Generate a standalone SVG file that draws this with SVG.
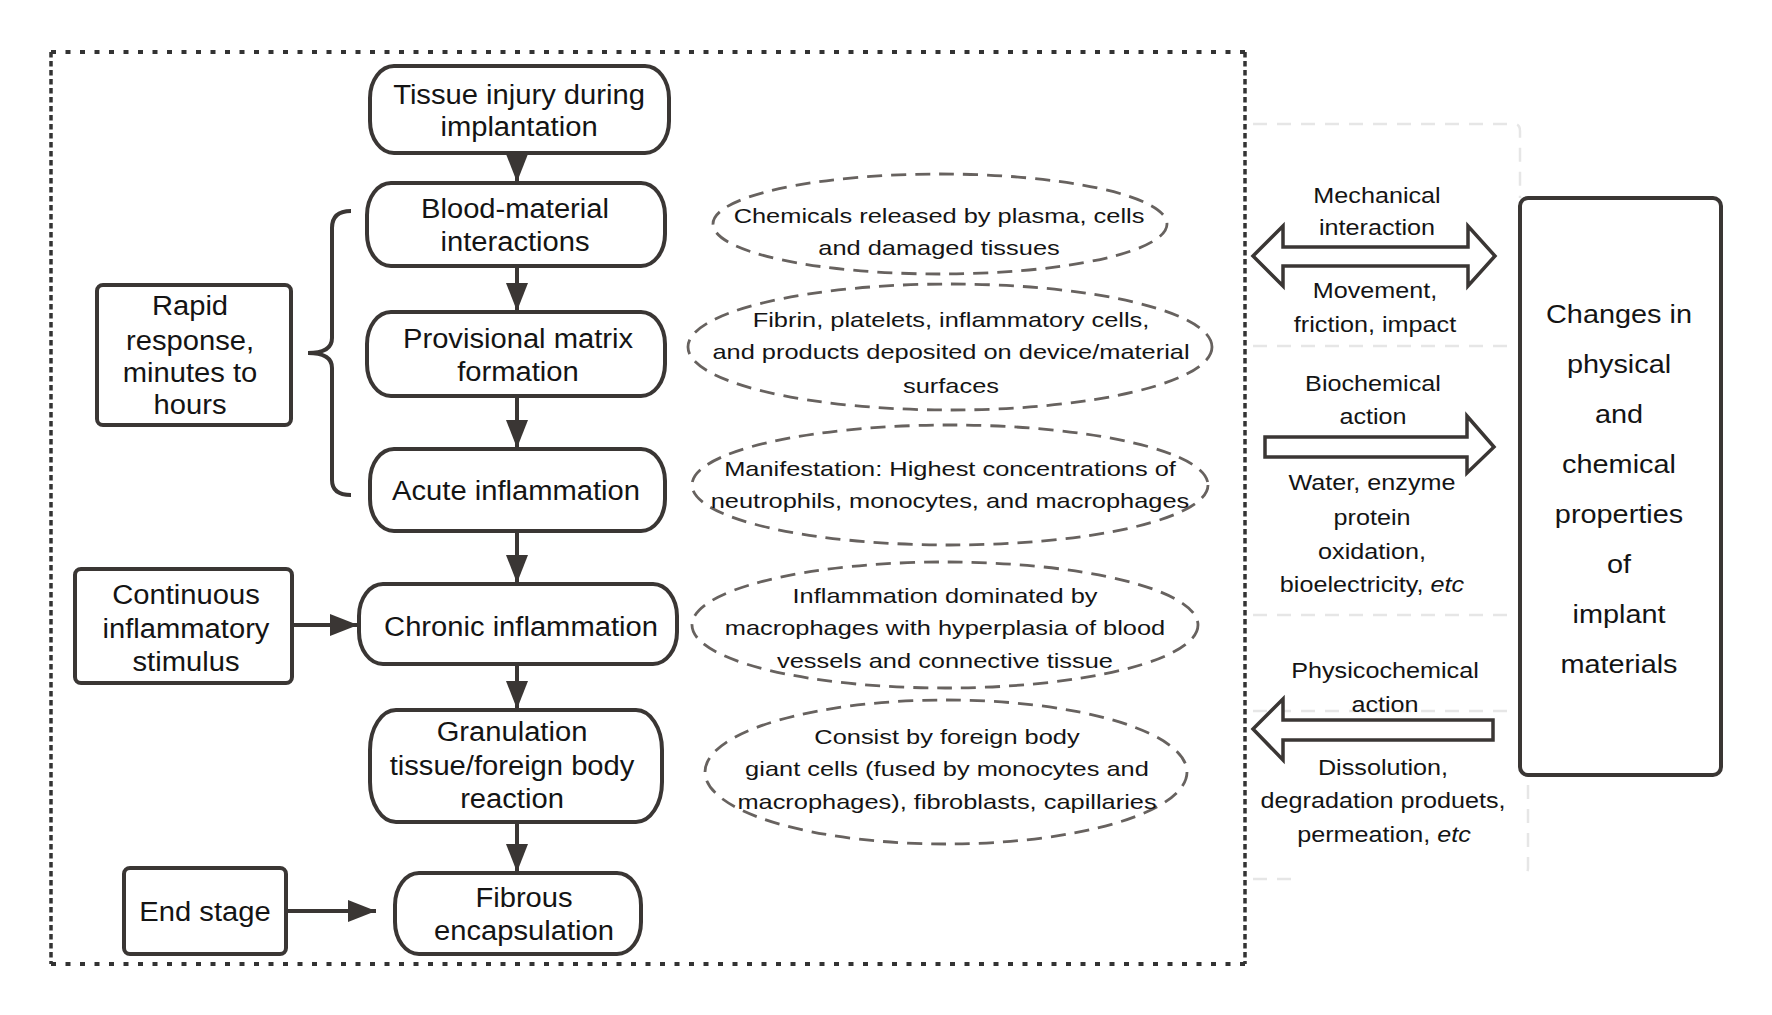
<svg xmlns="http://www.w3.org/2000/svg" width="1772" height="1015" viewBox="0 0 1772 1015">
<style>
text{font-family:"Liberation Sans",Arial,"DejaVu Sans",sans-serif;fill:#141414;text-anchor:middle}
.n{font-size:27px}
.e{font-size:21px}
.r{font-size:22.5px}
.b{font-size:26px}
.box{fill:#fff;stroke:#3a3634;stroke-width:4}
.ell{fill:none;stroke:#67625f;stroke-width:2.8;stroke-dasharray:15 9}
.flow{stroke:#3a3634;stroke-width:4;fill:none}
.blk{fill:#fff;stroke:#3a3634;stroke-width:3.5;stroke-linejoin:miter}
.ghost{fill:none;stroke:#e6e6e6;stroke-width:2.5;stroke-dasharray:14 10}
.bh{fill:none;stroke:#333;stroke-width:4;stroke-dasharray:5 9.5}
.bv{fill:none;stroke:#333;stroke-width:3.5;stroke-dasharray:5.5 3.5}
</style>
<defs>
<marker id="ah" markerUnits="userSpaceOnUse" markerWidth="30" markerHeight="24" refX="28" refY="11" orient="auto">
<path d="M0,0 L28,11 L0,22 z" fill="#3a3634"/>
</marker>
</defs>
<rect width="1772" height="1015" fill="#fff"/>

<g id="frame">
<line class="bh" x1="51" y1="52" x2="1245" y2="52"/>
<line class="bh" x1="51" y1="964" x2="1245" y2="964"/>
<line class="bv" x1="51" y1="52" x2="51" y2="964"/>
<line class="bv" x1="1245" y1="52" x2="1245" y2="964"/>
</g>

<g id="ghost-lines">
<path class="ghost" d="M1253,124 H1514 Q1520,124 1520,131 V198"/>
<line class="ghost" x1="1253" y1="346" x2="1515" y2="346"/>
<line class="ghost" x1="1253" y1="615" x2="1515" y2="615"/>
<line class="ghost" x1="1253" y1="711" x2="1515" y2="711"/>
<path class="ghost" d="M1528,785 V868 Q1528,874 1522,876"/>
<line class="ghost" x1="1253" y1="879" x2="1300" y2="879"/>
</g>

<g id="connectors">
<line class="flow" x1="517" y1="153" x2="517" y2="182" marker-end="url(#ah)"/>
<line class="flow" x1="517" y1="266" x2="517" y2="311" marker-end="url(#ah)"/>
<line class="flow" x1="517" y1="396" x2="517" y2="448" marker-end="url(#ah)"/>
<line class="flow" x1="517" y1="531" x2="517" y2="583" marker-end="url(#ah)"/>
<line class="flow" x1="517" y1="664" x2="517" y2="709" marker-end="url(#ah)"/>
<line class="flow" x1="517" y1="822" x2="517" y2="872" marker-end="url(#ah)"/>
<line class="flow" x1="292" y1="625" x2="358" y2="625" marker-end="url(#ah)"/>
<line class="flow" x1="286" y1="911" x2="376" y2="911" marker-end="url(#ah)"/>
<path id="brace" class="flow" d="M351,211 Q332,211 332,228 L332,338 Q332,353 308,353 Q332,353 332,368 L332,480 Q332,495 351,495"/>
<polygon id="mech-arrow" class="blk" points="1253,256 1283,226 1283,247 1468,247 1468,226 1495,256 1468,286 1468,266 1283,266 1283,286"/>
<polygon id="bio-arrow" class="blk" points="1265,437 1467,437 1467,416 1494,447 1467,473 1467,457 1265,457"/>
<polygon id="phys-arrow" class="blk" points="1253,729 1283,699 1283,720 1493,720 1493,740 1283,740 1283,760"/>
</g>

<g id="tissue">
<rect class="box" x="370" y="66" width="299" height="87" rx="24" ry="32"/>
<text class="n" transform="translate(519 0) scale(1.08 1)" y="104">Tissue injury during</text>
<text class="n" transform="translate(519 0) scale(1.08 1)" y="136">implantation</text>
</g>
<g id="blood">
<rect class="box" x="367" y="183" width="298" height="83" rx="24" ry="32"/>
<text class="n" transform="translate(515 0) scale(1.08 1)" y="218">Blood-material</text>
<text class="n" transform="translate(515 0) scale(1.08 1)" y="251">interactions</text>
</g>
<g id="provisional">
<rect class="box" x="367" y="312" width="298" height="84" rx="24" ry="32"/>
<text class="n" transform="translate(518 0) scale(1.08 1)" y="348">Provisional matrix</text>
<text class="n" transform="translate(518 0) scale(1.08 1)" y="381">formation</text>
</g>
<g id="acute">
<rect class="box" x="370" y="449" width="295" height="82" rx="24" ry="32"/>
<text class="n" transform="translate(516 0) scale(1.08 1)" y="500">Acute inflammation</text>
</g>
<g id="chronic">
<rect class="box" x="359" y="584" width="318" height="80" rx="24" ry="32"/>
<text class="n" transform="translate(521 0) scale(1.08 1)" y="636">Chronic inflammation</text>
</g>
<g id="granulation">
<rect class="box" x="370" y="710" width="292" height="112" rx="26" ry="40"/>
<text class="n" transform="translate(512 0) scale(1.08 1)" y="741">Granulation</text>
<text class="n" transform="translate(512 0) scale(1.08 1)" y="775">tissue/foreign body</text>
<text class="n" transform="translate(512 0) scale(1.08 1)" y="808">reaction</text>
</g>
<g id="fibrous">
<rect class="box" x="395" y="873" width="246" height="81" rx="24" ry="32"/>
<text class="n" transform="translate(524 0) scale(1.08 1)" y="907">Fibrous</text>
<text class="n" transform="translate(524 0) scale(1.08 1)" y="940">encapsulation</text>
</g>

<g id="rapid">
<rect class="box" x="97" y="285" width="194" height="140" rx="6"/>
<text class="n" transform="translate(190 0) scale(1.08 1)" y="315">Rapid</text>
<text class="n" transform="translate(190 0) scale(1.08 1)" y="350">response,</text>
<text class="n" transform="translate(190 0) scale(1.08 1)" y="382">minutes to</text>
<text class="n" transform="translate(190 0) scale(1.08 1)" y="414">hours</text>
</g>
<g id="continuous">
<rect class="box" x="75" y="569" width="217" height="114" rx="6"/>
<text class="n" transform="translate(186 0) scale(1.08 1)" y="604">Continuous</text>
<text class="n" transform="translate(186 0) scale(1.08 1)" y="638">inflammatory</text>
<text class="n" transform="translate(186 0) scale(1.08 1)" y="671">stimulus</text>
</g>
<g id="endstage">
<rect class="box" x="124" y="868" width="162" height="86" rx="6"/>
<text class="n" transform="translate(205 0) scale(1.08 1)" y="921">End stage</text>
</g>

<g id="note-chemicals">
<ellipse class="ell" cx="940" cy="224" rx="227" ry="50"/>
<text class="e" transform="translate(939 0) scale(1.21 1)" y="223">Chemicals released by plasma, cells</text>
<text class="e" transform="translate(939 0) scale(1.21 1)" y="255">and damaged tissues</text>
</g>
<g id="note-fibrin">
<ellipse class="ell" cx="950" cy="347" rx="262" ry="63"/>
<text class="e" transform="translate(951 0) scale(1.21 1)" y="327">Fibrin, platelets, inflammatory cells,</text>
<text class="e" transform="translate(951 0) scale(1.21 1)" y="359">and products deposited on device/material</text>
<text class="e" transform="translate(951 0) scale(1.21 1)" y="393">surfaces</text>
</g>
<g id="note-manifestation">
<ellipse class="ell" cx="950" cy="485" rx="258" ry="60"/>
<text class="e" transform="translate(950 0) scale(1.21 1)" y="476">Manifestation: Highest concentrations of</text>
<text class="e" transform="translate(950 0) scale(1.21 1)" y="508">neutrophils, monocytes, and macrophages</text>
</g>
<g id="note-chronic">
<ellipse class="ell" cx="945" cy="625" rx="253" ry="63"/>
<text class="e" transform="translate(945 0) scale(1.21 1)" y="603">Inflammation dominated by</text>
<text class="e" transform="translate(945 0) scale(1.21 1)" y="635">macrophages with hyperplasia of blood</text>
<text class="e" transform="translate(945 0) scale(1.21 1)" y="668">vessels and connective tissue</text>
</g>
<g id="note-granulation">
<ellipse class="ell" cx="946" cy="772" rx="241" ry="72"/>
<text class="e" transform="translate(947 0) scale(1.21 1)" y="744">Consist by foreign body</text>
<text class="e" transform="translate(947 0) scale(1.21 1)" y="776">giant cells (fused by monocytes and</text>
<text class="e" transform="translate(947 0) scale(1.21 1)" y="809">macrophages), fibroblasts, capillaries</text>
</g>

<g id="label-mechanical">
<text class="r" transform="translate(1377 0) scale(1.12 1)" y="203">Mechanical</text>
<text class="r" transform="translate(1377 0) scale(1.12 1)" y="235">interaction</text>
<text class="r" transform="translate(1375 0) scale(1.12 1)" y="298">Movement,</text>
<text class="r" transform="translate(1375 0) scale(1.12 1)" y="332">friction, impact</text>
</g>
<g id="label-biochemical">
<text class="r" transform="translate(1373 0) scale(1.12 1)" y="391">Biochemical</text>
<text class="r" transform="translate(1373 0) scale(1.12 1)" y="424">action</text>
<text class="r" transform="translate(1372 0) scale(1.12 1)" y="490">Water, enzyme</text>
<text class="r" transform="translate(1372 0) scale(1.12 1)" y="525">protein</text>
<text class="r" transform="translate(1372 0) scale(1.12 1)" y="559">oxidation,</text>
<text class="r" transform="translate(1372 0) scale(1.12 1)" y="592">bioelectricity, <tspan font-style="italic">etc</tspan></text>
</g>
<g id="label-physicochemical">
<text class="r" transform="translate(1385 0) scale(1.12 1)" y="678">Physicochemical</text>
<text class="r" transform="translate(1385 0) scale(1.12 1)" y="712">action</text>
<text class="r" transform="translate(1383 0) scale(1.12 1)" y="775">Dissolution,</text>
<text class="r" transform="translate(1383 0) scale(1.12 1)" y="808">degradation produets,</text>
<text class="r" transform="translate(1384 0) scale(1.12 1)" y="842">permeation, <tspan font-style="italic">etc</tspan></text>
</g>

<g id="changes">
<rect class="box" x="1520" y="198" width="201" height="577" rx="8"/>
<text class="b" transform="translate(1619 0) scale(1.11 1)" y="323">Changes in</text>
<text class="b" transform="translate(1619 0) scale(1.11 1)" y="373">physical</text>
<text class="b" transform="translate(1619 0) scale(1.11 1)" y="423">and</text>
<text class="b" transform="translate(1619 0) scale(1.11 1)" y="473">chemical</text>
<text class="b" transform="translate(1619 0) scale(1.11 1)" y="523">properties</text>
<text class="b" transform="translate(1619 0) scale(1.11 1)" y="573">of</text>
<text class="b" transform="translate(1619 0) scale(1.11 1)" y="623">implant</text>
<text class="b" transform="translate(1619 0) scale(1.11 1)" y="673">materials</text>
</g>
</svg>
